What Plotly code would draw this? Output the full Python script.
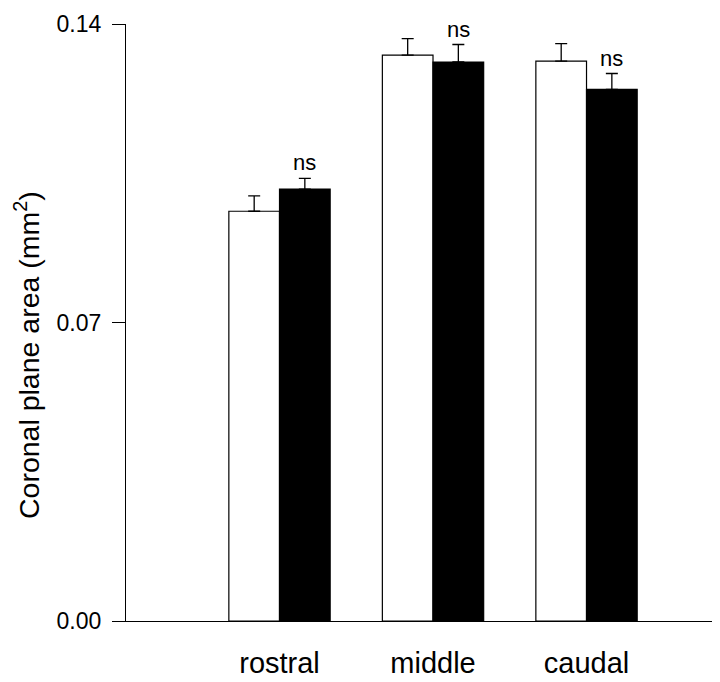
import plotly.graph_objects as go

categories = ["rostral", "middle", "caudal"]
cat_pos = [0, 1, 2]
control_vals = [0.0961, 0.1327, 0.1313]
control_err = [0.0036, 0.0039, 0.0041]
treated_vals = [0.1013, 0.1311, 0.1247]
treated_err = [0.0025, 0.0041, 0.0037]
sig_labels = ["ns", "ns", "ns"]
y_ticks = [0.0, 0.07, 0.14]

FONT = "Liberation Sans, Arial, sans-serif"

fig = go.Figure()
fig.add_trace(go.Bar(
    x=cat_pos, y=control_vals, name="control",
    marker=dict(color="white", line=dict(color="black", width=1.2)),
    error_y=dict(type="data", array=control_err, arrayminus=[0]*3, symmetric=False,
                 color="black", thickness=1.3, width=6),
))
fig.add_trace(go.Bar(
    x=cat_pos, y=treated_vals, name="treated",
    marker=dict(color="black", line=dict(color="black", width=1.2)),
    error_y=dict(type="data", array=treated_err, arrayminus=[0]*3, symmetric=False,
                 color="black", thickness=1.3, width=6),
))

bar_w = 0.33
for i, (v, e, s) in enumerate(zip(treated_vals, treated_err, sig_labels)):
    fig.add_annotation(x=cat_pos[i] + bar_w / 2, y=v + e, text=s, showarrow=False,
                       yanchor="bottom", yshift=1, font=dict(size=22, color="black", family=FONT))

fig.add_annotation(xref="paper", yref="paper", x=0, xshift=-99, y=0.4455,
                   text="Coronal plane area (mm<sup>2</sup>)", textangle=-90,
                   showarrow=False, xanchor="center", yanchor="middle", borderpad=0,
                   font=dict(size=28.5, color="black", family=FONT))

fig.update_layout(
    width=712, height=674,
    margin=dict(l=118, r=3, t=4, b=55),
    paper_bgcolor="white", plot_bgcolor="white",
    barmode="group", bargap=0.34, bargroupgap=0,
    showlegend=False,
    font=dict(family=FONT, color="black"),
)
fig.update_xaxes(
    range=[-1, 2.85], tickvals=cat_pos, ticktext=categories,
    showline=True, linecolor="black", linewidth=1.3, ticks="",
    showgrid=False, zeroline=False,
    tickfont=dict(size=29, color="black", family=FONT), ticklabelstandoff=16,
)
fig.update_yaxes(
    range=[0, 0.14001], tickvals=y_ticks, tickformat=".2f",
    showline=True, linecolor="black", linewidth=1.3,
    ticks="outside", ticklen=13, tickwidth=1.3, tickcolor="black",
    showgrid=False, zeroline=False, ticklabeloverflow="allow",
    tickfont=dict(size=23, color="black", family=FONT), ticklabelstandoff=6,
)

fig.write_html("out.html")
